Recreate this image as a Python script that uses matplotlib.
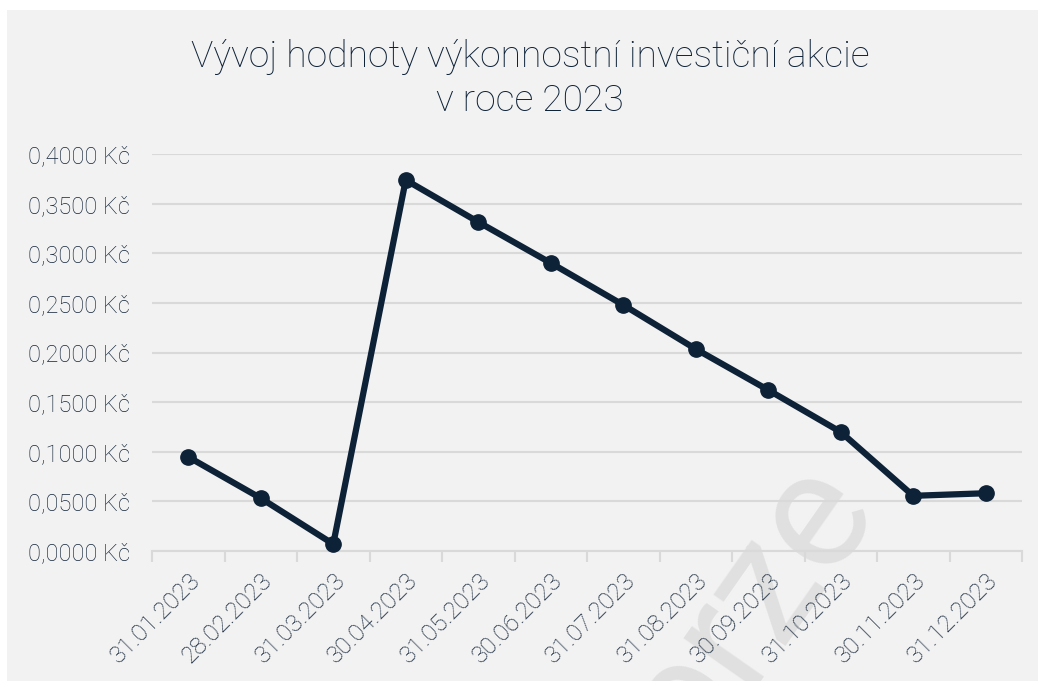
import matplotlib
matplotlib.use('Agg')
import matplotlib.pyplot as plt
from matplotlib.patches import Rectangle
from matplotlib.ticker import FuncFormatter
from matplotlib.transforms import ScaledTranslation

# data
dates = ['31.01.2023', '28.02.2023', '31.03.2023', '30.04.2023', '31.05.2023', '30.06.2023',
         '31.07.2023', '31.08.2023', '30.09.2023', '31.10.2023', '30.11.2023', '31.12.2023']
values = [0.0948, 0.0532, 0.0070, 0.3738, 0.3315, 0.2902,
          0.2479, 0.2035, 0.1622, 0.1199, 0.0556, 0.0582]
y_ticks = [0.0, 0.05, 0.10, 0.15, 0.20, 0.25, 0.30, 0.35, 0.40]

BG = '#f2f2f2'
GRID = '#d9d9d9'
LINE = '#0d2137'
TEXT = '#15263a'

plt.rcParams['font.family'] = ['Roboto', 'DejaVu Sans']

fig = plt.figure(figsize=(10.38, 6.81), dpi=100)
fig.patch.set_facecolor('white')
fig.patches.append(Rectangle((7 / 1038, 0), 1, 1 - 10 / 681, transform=fig.transFigure,
                             facecolor=BG, edgecolor='none', zorder=-5))

# watermark (behind the chart)
fig.text(728 / 1038, 1 - 645 / 681, 'verze', ha='center', va='center', rotation=55,
         fontsize=120, color='#e0e0e0', zorder=-1)

ax = fig.add_axes([152 / 1038, 130 / 681, 870 / 1038, 397 / 681])
ax.set_facecolor('none')

x = list(range(len(dates)))
ax.plot(x, values, color=LINE, lw=4.5, marker='o', ms=11, clip_on=False, zorder=3,
        solid_joinstyle='round')

ax.set_xlim(-0.5, len(dates) - 0.5)
ax.set_ylim(0, 0.4)
ax.set_yticks(y_ticks)
ax.yaxis.set_major_formatter(FuncFormatter(lambda v, p: f'{v:.4f}'.replace('.', ',') + ' Kč'))
ax.grid(axis='y', color=GRID, lw=1.5)
ax.set_axisbelow(True)

# category boundary ticks, labels at centers
ax.set_xticks([i - 0.5 for i in range(len(dates) + 1)])
ax.set_xticklabels([])
ax.set_xticks(x, minor=True)
ax.set_xticklabels(dates, minor=True, rotation=45, ha='right', va='top',
                   rotation_mode='anchor', fontsize=17.5, color=TEXT, fontweight='light')
shift = ScaledTranslation(-17 / 100, 0, fig.dpi_scale_trans)
for lbl in ax.get_xticklabels(minor=True):
    lbl.set_transform(lbl.get_transform() + shift)
ax.tick_params(axis='x', which='major', length=8, width=1.5, color=GRID, direction='out')
ax.tick_params(axis='x', which='minor', length=0, pad=13)
ax.tick_params(axis='y', length=0, pad=16, labelsize=17, labelcolor=TEXT)
for lbl in ax.get_yticklabels():
    lbl.set_fontweight('light')

for s in ['top', 'right', 'left']:
    ax.spines[s].set_visible(False)
ax.spines['bottom'].set_color(GRID)
ax.spines['bottom'].set_linewidth(1.5)

fig.text(530 / 1038, 1 - 57 / 681, 'Vývoj hodnoty výkonnostní investiční akcie', ha='center', va='center',
         fontsize=26.8, color='#0d2137', fontweight='light')
fig.text(530 / 1038, 1 - 101 / 681, 'v roce 2023', ha='center', va='center',
         fontsize=26.8, color='#0d2137', fontweight='light')

fig.savefig('out.png', dpi=100, facecolor=fig.get_facecolor())
